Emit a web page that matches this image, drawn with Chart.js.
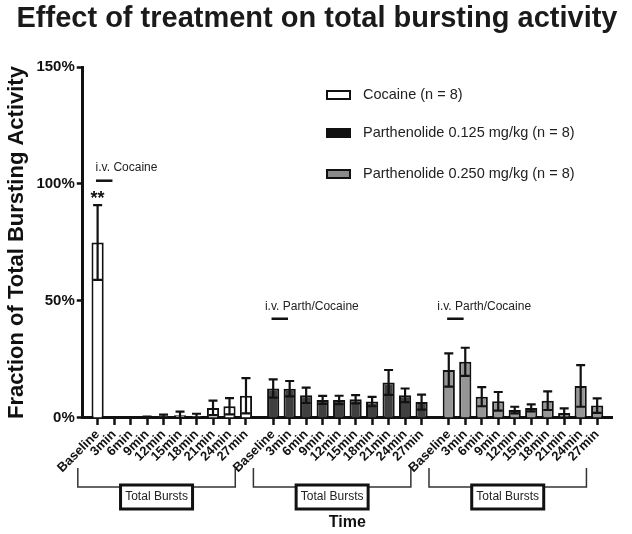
<!DOCTYPE html>
<html>
<head>
<meta charset="utf-8">
<script src="https://cdn.jsdelivr.net/npm/chart.js@4.4.1/dist/chart.umd.min.js"></script>
<style>
  html, body { margin: 0; padding: 0; background: #fff; }
  #wrap { width: 632px; height: 534px; }
</style>
</head>
<body>
<div id="wrap"><canvas id="burstChart"></canvas></div>
<script>
const timeLabels = ['Baseline', '3min', '6min', '9min', '12min', '15min', '18min', '21min', '24min', '27min'];
const groupNames = ['Cocaine (n = 8)', 'Parthenolide 0.125 mg/kg (n = 8)', 'Parthenolide 0.250 mg/kg (n = 8)'];

const cocaineMean = [75, 0, 0, 0.3, 0.8, 1.2, 0.8, 4.3, 5.0, 9.5];
const cocaineSem = [16, 0, 0, 0.3, 0.6, 1.5, 1.0, 3.1, 3.5, 7.5];
const parth125Mean = [12.6, 12.5, 9.7, 7.7, 7.7, 8.0, 7.0, 15.2, 9.7, 6.8];
const parth125Sem = [3.9, 3.3, 3.3, 1.7, 1.8, 1.8, 2.0, 5.3, 2.9, 3.2];
const parth250Mean = [20.5, 24.0, 9.1, 7.1, 3.4, 4.3, 7.4, 2.1, 13.7, 5.3];
const parth250Sem = [7.1, 6.0, 4.1, 4.0, 1.4, 1.5, 4.0, 2.0, 8.9, 3.1];

const yTicks = [0, 50, 100, 150];

const FONT = '"Liberation Sans", Arial, Helvetica, sans-serif';
const GROUP_GAP = 0.65;   // extra empty space between groups, in bar slots

// x position of bar i in group g
function xPos(g, i) {
    return g * (timeLabels.length + GROUP_GAP) + i;
}

const means = [cocaineMean, parth125Mean, parth250Mean];
const sems = [cocaineSem, parth125Sem, parth250Sem];
const fills = ['#ffffff', '#404040', '#969696'];
const legendFills = ['#ffffff', '#111111', '#8a8a8a'];

const xTickValues = [];
const xTickLabels = [];
means.forEach((m, g) => {
    timeLabels.forEach((lab, i) => {
        xTickValues.push(xPos(g, i));
        xTickLabels.push(lab);
    });
});

const datasets = means.map((m, g) => ({
    label: groupNames[g],
    data: m.map((v, i) => ({ x: xPos(g, i), y: v })),
    backgroundColor: fills[g],
    borderColor: '#111',
    borderWidth: 2,
    borderSkipped: 'start',
    grouped: false,
    barPercentage: 0.74,
    categoryPercentage: 1
}));

const overlayPlugin = {
    id: 'overlay',
    afterDatasetsDraw(chart) {
        const { ctx } = chart;
        const xs = chart.scales.x;
        const ys = chart.scales.y;
        const slot = xs.getPixelForValue(1) - xs.getPixelForValue(0);

        ctx.save();
        // title, centred on the whole figure
        ctx.font = 'bold 29px ' + FONT;
        ctx.fillStyle = '#1a1a1a';
        ctx.textAlign = 'center';
        ctx.textBaseline = 'middle';
        ctx.fillText('Effect of treatment on total bursting activity', 317, 19);

        // error bars
        ctx.strokeStyle = '#111';
        ctx.lineWidth = 2.2;
        means.forEach((m, g) => {
            m.forEach((v, i) => {
                const e = sems[g][i];
                if (e <= 0) return;
                const x = xs.getPixelForValue(xPos(g, i));
                const yTop = ys.getPixelForValue(v + e);
                const yBot = ys.getPixelForValue(Math.max(0, v - e));
                ctx.beginPath();
                ctx.moveTo(x, yTop);
                ctx.lineTo(x, yBot);
                ctx.moveTo(x - 4.5, yTop);
                ctx.lineTo(x + 4.5, yTop);
                ctx.moveTo(x - 4.5, yBot);
                ctx.lineTo(x + 4.5, yBot);
                ctx.stroke();
            });
        });

        // injection markers
        const notes = [
            { g: 0, text: 'i.v. Cocaine', textDx: -0.12, lineY: 101.4, textY: 107 },
            { g: 1, text: 'i.v. Parth/Cocaine', textDx: -0.5, lineY: 42.4, textY: 47.7 },
            { g: 2, text: 'i.v. Parth/Cocaine', textDx: -0.7, lineY: 42.4, textY: 47.7 }
        ];
        ctx.font = '12px ' + FONT;
        ctx.fillStyle = '#222';
        ctx.textAlign = 'left';
        notes.forEach(n => {
            const x0 = xs.getPixelForValue(xPos(n.g, 0));
            ctx.fillText(n.text, x0 + n.textDx * slot, ys.getPixelForValue(n.textY));
            ctx.lineWidth = 2.5;
            ctx.beginPath();
            const ly = ys.getPixelForValue(n.lineY);
            ctx.moveTo(x0 - 0.1 * slot, ly);
            ctx.lineTo(x0 + 0.9 * slot, ly);
            ctx.stroke();
        });

        // significance stars
        ctx.font = 'bold 18px ' + FONT;
        ctx.textAlign = 'center';
        ctx.fillStyle = '#111';
        ctx.fillText('**', xs.getPixelForValue(xPos(0, 0)), ys.getPixelForValue(cocaineMean[0] + cocaineSem[0]) - 6);

        // legend
        ctx.font = '14.5px ' + FONT;
        ctx.textAlign = 'left';
        const lx = 327;
        [95, 133, 174].forEach((ly, g) => {
            ctx.fillStyle = legendFills[g];
            ctx.fillRect(lx, ly - 4, 23, 8);
            ctx.lineWidth = 2;
            ctx.strokeStyle = '#111';
            ctx.strokeRect(lx, ly - 4, 23, 8);
            ctx.fillStyle = '#222';
            ctx.fillText(groupNames[g], lx + 36, ly);
        });

        // group brackets
        const brTop = 468, brY = 487;
        means.forEach((m, g) => {
            const xa = xs.getPixelForValue(xPos(g, 0)) - 1.2 * slot;
            const xb = xs.getPixelForValue(xPos(g, 9)) - 0.65 * slot;
            ctx.lineWidth = 1.5;
            ctx.strokeStyle = '#333';
            ctx.beginPath();
            ctx.moveTo(xa, brTop);
            ctx.lineTo(xa, brY);
            ctx.lineTo(xb, brY);
            ctx.lineTo(xb, brTop);
            ctx.stroke();
            const cx = (xa + xb) / 2;
            ctx.fillStyle = '#fff';
            ctx.fillRect(cx - 36, brY - 2, 72, 24);
            ctx.lineWidth = 3;
            ctx.strokeStyle = '#111';
            ctx.strokeRect(cx - 36, brY - 2, 72, 24);
            ctx.fillStyle = '#222';
            ctx.font = '12px ' + FONT;
            ctx.textAlign = 'center';
            ctx.fillText('Total Bursts', cx, brY + 10);
        });
        ctx.restore();
    }
};

new Chart(document.getElementById('burstChart').getContext('2d'), {
    type: 'bar',
    data: { datasets: datasets },
    plugins: [overlayPlugin],
    options: {
        responsive: true,
        maintainAspectRatio: false,
        animation: false,
        layout: {
            padding: { left: 2, right: 20, top: 67, bottom: 2 }
        },
        plugins: {
            legend: { display: false },
            tooltip: { enabled: false },
            title: { display: false }
        },
        scales: {
            x: {
                type: 'linear',
                offset: false,
                min: -0.9,
                max: xPos(2, 9) + 0.9,
                afterBuildTicks: (scale) => {
                    scale.ticks = xTickValues.map(v => ({ value: v }));
                },
                ticks: {
                    autoSkip: false,
                    minRotation: 45,
                    maxRotation: 45,
                    padding: 2,
                    color: '#111',
                    font: { family: FONT, size: 13, weight: 'bold' },
                    callback: (value, index) => xTickLabels[index]
                },
                grid: {
                    offset: false,
                    drawOnChartArea: false,
                    tickLength: 7,
                    tickWidth: 2.5,
                    color: '#111'
                },
                border: { width: 3, color: '#111' },
                title: {
                    display: true,
                    text: 'Time',
                    color: '#111',
                    font: { family: FONT, size: 16, weight: 'bold' },
                    padding: { top: 35, bottom: 0 }
                }
            },
            y: {
                min: 0,
                max: 150,
                afterBuildTicks: (scale) => {
                    scale.ticks = yTicks.map(v => ({ value: v }));
                },
                ticks: {
                    color: '#111',
                    padding: 2,
                    font: { family: FONT, size: 15, weight: 'bold' },
                    callback: (v) => v + '%'
                },
                grid: {
                    drawOnChartArea: false,
                    tickLength: 6,
                    tickWidth: 2.5,
                    color: '#111'
                },
                border: { width: 3, color: '#111' },
                title: {
                    display: true,
                    text: 'Fraction of Total Bursting Activity',
                    color: '#111',
                    font: { family: FONT, size: 22, weight: 'bold' },
                    padding: { top: 2, bottom: 4 }
                }
            }
        }
    }
});
</script>
</body>
</html>
